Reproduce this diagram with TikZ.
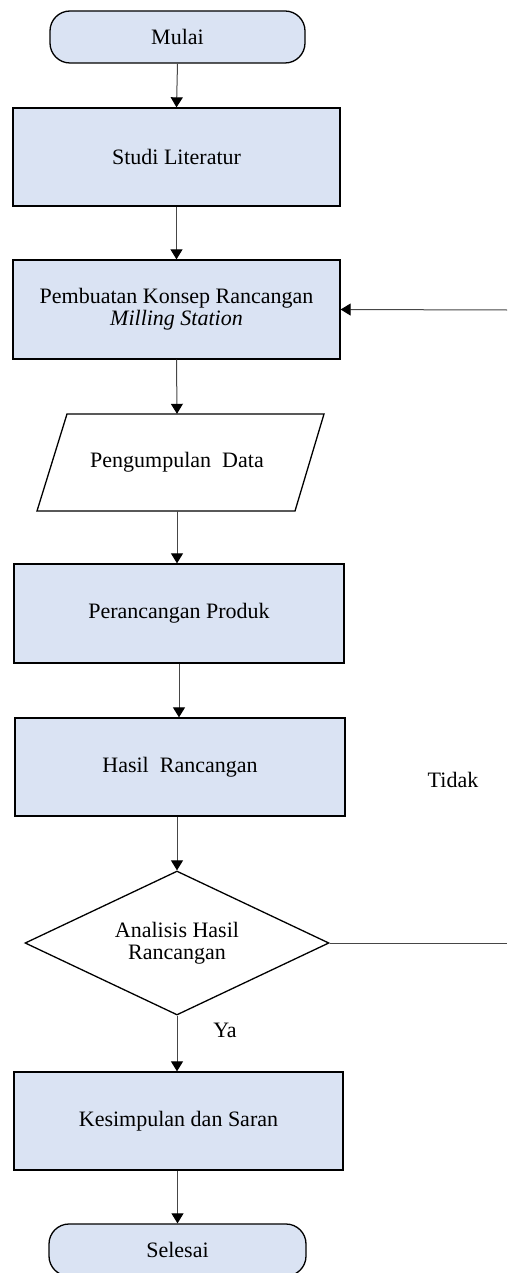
\documentclass[tikz,border=0pt]{standalone}
\usepackage{fontspec}
\setmainfont{Liberation Serif}
\usetikzlibrary{shapes.geometric,arrows.meta}
\definecolor{boxblue}{RGB}{218,227,243}
\definecolor{linegray}{RGB}{70,70,70}
\tikzset{
  stepbox/.style={draw=black, line width=1.3pt, fill=boxblue, minimum width=327pt, minimum height=98pt, inner sep=0pt, align=center},
  termbox/.style={draw=black, line width=1.3pt, fill=boxblue, rounded corners=20pt, minimum width=255pt, minimum height=52pt, inner sep=0pt},
  decbox/.style={draw=black, line width=1.3pt, diamond, aspect=2.11, minimum width=304pt, minimum height=144pt, inner sep=0pt, align=center},
  conn/.style={draw=linegray, line width=1pt},
  arr/.style={conn, -{Triangle[width=12pt,length=10pt,color=black,fill=black]}},
  lbl/.style={inner sep=0pt}
}
\begin{document}
\begin{tikzpicture}[x=1pt,y=-1pt, font=\fontsize{22}{25}\selectfont]
\useasboundingbox (0,0) rectangle (507,1273);
\clip (0,0) rectangle (507,1273);
\node[termbox] (mulai) at (177.5,37) {Mulai};
\node[stepbox] (studi) at (176.5,157) {Studi Literatur};
\node[stepbox, minimum height=99pt] (konsep) at (176.5,309.5) {Pembuatan Konsep Rancangan\\[-3pt]\textit{Milling Station}};
% parallelogram
\coordinate (p1) at (67,414);
\coordinate (p2) at (324,414);
\coordinate (p3) at (295,511);
\coordinate (p4) at (37,511);
\draw[line width=1.3pt, fill=white] (p1) -- (p2) -- (p3) -- (p4) -- cycle;
\node[minimum width=220pt, minimum height=97pt, inner sep=0pt] (data) at (177,462.5) {Pengumpulan\ \ Data};
\node[stepbox, minimum width=330pt, minimum height=99pt] (produk) at (179,613.5) {Perancangan Produk};
\node[stepbox, minimum width=330pt] (hasil) at (180,767) {Hasil\ \ Rancangan};
\node[decbox] (analisis) at (177,943) {Analisis Hasil\\[-3pt]Rancangan};
\node[stepbox, minimum width=329pt] (simpul) at (178.5,1121) {Kesimpulan dan Saran};
\node[termbox, minimum width=257pt] (selesai) at (177.5,1250) {Selesai};
\node[lbl] (tidak) at (453,780) {Tidak};
\node[lbl] (ya) at (225,1030) {Ya};
\coordinate (fbtop) at (507,310);
\coordinate (fbbot) at (507,943);
\draw[arr] (mulai.south) -- (studi.north);
\draw[arr] (studi.south) -- (konsep.north);
\draw[arr] (konsep.south) -- (data.north);
\draw[arr] (data.south) -- (produk.north -| data.south);
\draw[arr] (produk.south) -- (hasil.north -| produk.south);
\draw[arr] (hasil.south -| analisis.north) -- (analisis.north);
\draw[arr] (analisis.south) -- (simpul.north -| analisis.south);
\draw[arr] (simpul.south -| selesai.north) -- (selesai.north);
\draw[conn] (analisis.east) -- (fbbot);
\draw[arr] (fbtop) -- (konsep.east);
\end{tikzpicture}
\end{document}
